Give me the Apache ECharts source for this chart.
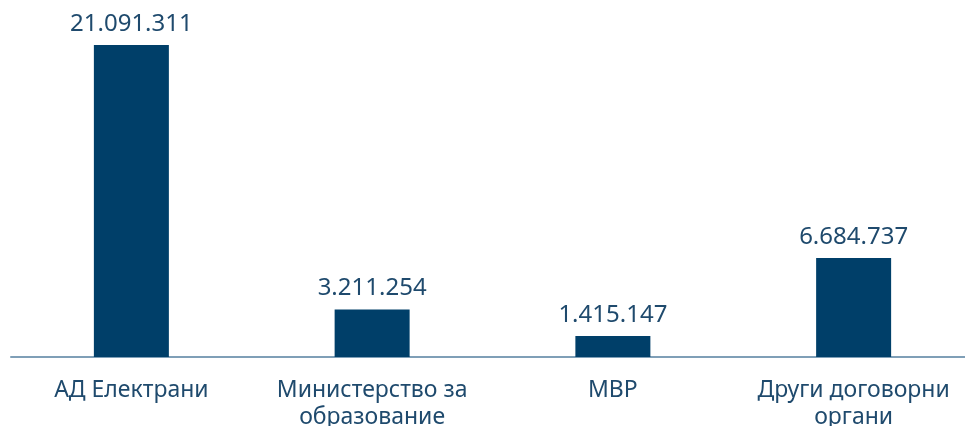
<!DOCTYPE html>
<html>
<head>
<meta charset="utf-8">
<script src="https://cdn.jsdelivr.net/npm/echarts@6/dist/echarts.min.js"></script>
<style>
  html, body { margin: 0; padding: 0; background: #fff; }
  #chart { width: 965px; height: 426px; }
</style>
</head>
<body>
<div id="chart"></div>
<script>
var categories = ['АД Електрани', 'Министерство за\nобразование', 'МВР', 'Други договорни\nоргани'];
var amounts = [21091311, 3211254, 1415147, 6684737];

function fmt(v) {
    return String(v).replace(/\B(?=(\d{3})+(?!\d))/g, '.');
}

var myChart = echarts.init(document.getElementById('chart'));
var option = {
    animation: false,
    grid: {
        left: 11,
        width: 963,
        top: 45,
        bottom: 69,
        outerBoundsMode: 'none',
        containLabel: false
    },
    xAxis: {
        type: 'category',
        data: categories,
        axisLine: { lineStyle: { color: '#7f9fb7', width: 2 } },
        axisTick: { show: false },
        axisLabel: {
            color: '#1f4a6d',
            fontSize: 23,
            fontFamily: 'Noto Sans',
            lineHeight: 27,
            margin: 20,
            interval: 0
        }
    },
    yAxis: {
        type: 'value',
        min: 0,
        max: function (value) { return value.max; },
        show: false,
        splitLine: { show: false }
    },
    series: [
        {
            type: 'bar',
            data: amounts,
            barWidth: 75,
            itemStyle: { color: '#003f69' },
            label: {
                show: true,
                position: 'top',
                distance: 9,
                color: '#1f4a6d',
                fontSize: 24,
                fontFamily: 'Noto Sans',
                formatter: function (p) { return fmt(p.value); }
            }
        }
    ]
};
myChart.setOption(option);
</script>
</body>
</html>
